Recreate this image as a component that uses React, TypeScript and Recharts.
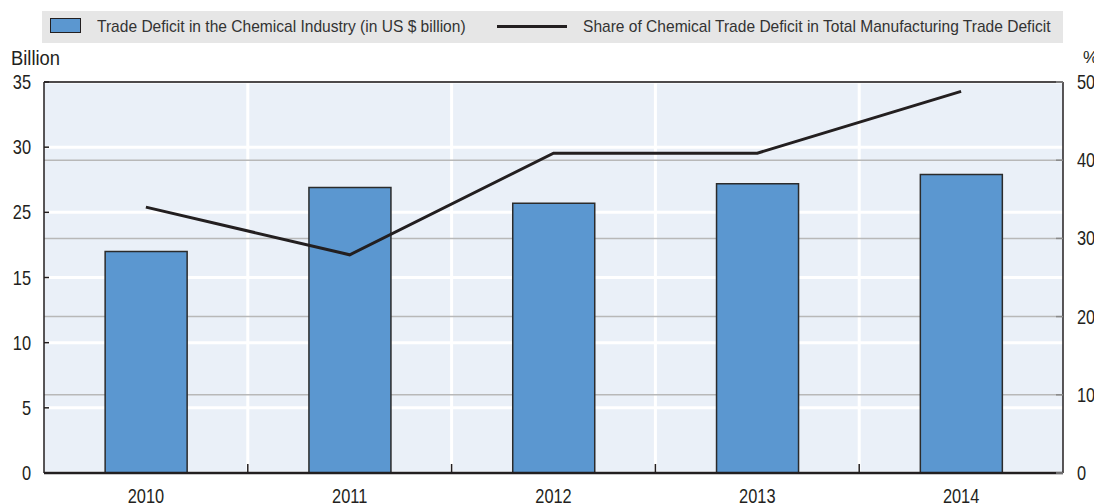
import { ComposedChart, Bar, Line, XAxis, YAxis, CartesianGrid, ReferenceLine } from 'recharts'

const YEARS = ['2010', '2011', '2012', '2013', '2014']
// bar heights in left-axis units (axis is drawn with 6 even intervals)
const CHEM_DEFICIT = [17.0, 21.9, 20.7, 22.2, 22.9]
const CHEM_SHARE = [34.0, 27.9, 40.9, 40.9, 48.8]
const LEFT_TICKS = [0, 5, 10, 15, 20, 25, 30]
const LEFT_TICK_LABELS = ['0', '5', '10', '15', '25', '30', '35']
const RIGHT_TICKS = [0, 10, 20, 30, 40, 50]

const BAR_NAME = 'Trade Deficit in the Chemical Industry (in US $ billion)'
const LINE_NAME = 'Share of Chemical Trade Deficit in Total Manufacturing Trade Deficit'

const data = YEARS.map((year, i) => ({ year, deficit: CHEM_DEFICIT[i], share: CHEM_SHARE[i] }))

const W = 1094
const H = 504
const LEFT_W = 44
const RIGHT_W = 31
const PLOT_W = W - LEFT_W - RIGHT_W
const FONT = '"Liberation Sans", Arial, sans-serif'
const DARK = '#231f20'
const BAR_FILL = '#5b97d0'
const NUM_SCALE = 0.82

// condensed look: Liberation Sans squeezed horizontally
function SqueezedText({ x, y, anchor, children, size = 20, scale = NUM_SCALE }: any) {
  return (
    <g transform={`translate(${x},${y}) scale(${scale},1)`}>
      <text x={0} y={0} textAnchor={anchor} fontSize={size} fill={DARK} fontFamily={FONT}>
        {children}
      </text>
    </g>
  )
}

function LeftTick({ x, y, index }: any) {
  return (
    <g>
      <SqueezedText x={x} y={y + 7} anchor="end">{LEFT_TICK_LABELS[index]}</SqueezedText>
      <line x1={x + 13} x2={x + 18} y1={y} y2={y} stroke={DARK} strokeWidth={1.5} />
    </g>
  )
}

function RightTick({ x, y, payload }: any) {
  return (
    <g>
      <SqueezedText x={x} y={y + 7} anchor="start">{payload.value}</SqueezedText>
      <line x1={x - 21} x2={x - 14} y1={y} y2={y} stroke="#8a8a8a" strokeWidth={1.5} />
    </g>
  )
}

function YearTick({ x, y, payload, index }: any) {
  const band = PLOT_W / YEARS.length
  return (
    <g>
      <SqueezedText x={x} y={y + 30} anchor="middle">{payload.value}</SqueezedText>
      {index < YEARS.length - 1 && (
        <line x1={x + band / 2} x2={x + band / 2} y1={y - 9} y2={y} stroke={DARK} strokeWidth={1.5} />
      )}
    </g>
  )
}

const legendText: React.CSSProperties = {
  position: 'absolute', top: 6, fontSize: 17, lineHeight: '20px', whiteSpace: 'nowrap',
  transform: 'scaleX(0.915)', transformOrigin: 'left center', color: '#333',
}

function LegendBox() {
  return (
    <div style={{ position: 'absolute', left: 42, top: 11, width: 1021, height: 32, background: '#e6e6e6', fontFamily: FONT }}>
      <div style={{ position: 'absolute', left: 8, top: 7, width: 29, height: 13, background: BAR_FILL, border: `1.5px solid ${DARK}` }} />
      <div style={{ ...legendText, left: 55 }}>{BAR_NAME}</div>
      <div style={{ position: 'absolute', left: 455, top: 14, width: 70, height: 3, background: DARK }} />
      <div style={{ ...legendText, left: 541 }}>{LINE_NAME}</div>
    </div>
  )
}

export default function App() {
  return (
    <div style={{ position: 'absolute', left: 0, top: 0, width: W, height: H, background: '#fff', overflow: 'hidden' }}>
      <LegendBox />
      <div
        style={{
          position: 'absolute', left: 11, top: 47, fontFamily: FONT, fontSize: 20, color: DARK,
          transform: 'scaleX(0.92)', transformOrigin: 'left center',
        }}
      >
        Billion
      </div>
      <div style={{ position: 'absolute', left: 1083, top: 48, fontFamily: FONT, fontSize: 17, color: DARK }}>%</div>
      <ComposedChart
        width={W}
        height={H}
        data={data}
        margin={{ top: 82, right: 0, bottom: 0, left: 0 }}
        barCategoryGap="30%"
      >
        <CartesianGrid
          yAxisId="left"
          fill="#eaf0f8"
          stroke="#ffffff"
          strokeWidth={3}
          verticalCoordinatesGenerator={({ offset }: any) =>
            YEARS.slice(1).map((_, i) => offset.left + ((i + 1) * offset.width) / YEARS.length)
          }
        />
        <CartesianGrid yAxisId="right" vertical={false} stroke="#b8b8b8" strokeWidth={1.5} />
        <XAxis
          dataKey="year"
          height={31}
          tickSize={0}
          tickMargin={0}
          axisLine={{ stroke: DARK, strokeWidth: 2.5 }}
          tick={<YearTick />}
        />
        <YAxis
          yAxisId="left"
          orientation="left"
          width={LEFT_W}
          domain={[0, 30]}
          ticks={LEFT_TICKS}
          interval={0}
          tickSize={0}
          tickMargin={13}
          axisLine={{ stroke: DARK, strokeWidth: 1.5 }}
          tick={<LeftTick />}
        />
        <YAxis
          yAxisId="right"
          orientation="right"
          width={RIGHT_W}
          domain={[0, 50]}
          ticks={RIGHT_TICKS}
          interval={0}
          tickSize={0}
          tickMargin={14}
          axisLine={{ stroke: DARK, strokeWidth: 1.5 }}
          tick={<RightTick />}
        />
        <ReferenceLine yAxisId="left" y={30} stroke={DARK} strokeWidth={1.5} />
        <Bar
          yAxisId="left"
          dataKey="deficit"
          name={BAR_NAME}
          fill={BAR_FILL}
          stroke="#2b2b2b"
          strokeWidth={1.5}
          isAnimationActive={false}
        />
        <Line
          yAxisId="right"
          type="linear"
          dataKey="share"
          name={LINE_NAME}
          stroke={DARK}
          strokeWidth={3}
          dot={false}
          activeDot={false}
          isAnimationActive={false}
        />
      </ComposedChart>
    </div>
  )
}
